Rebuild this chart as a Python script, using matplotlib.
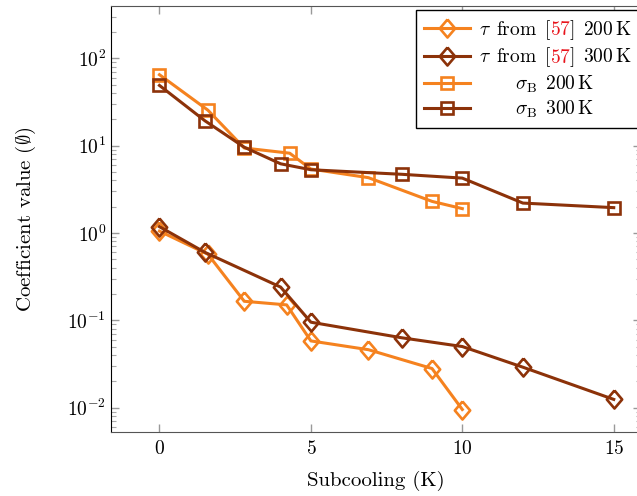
import matplotlib
matplotlib.use("Agg")
import matplotlib.pyplot as plt
from matplotlib.transforms import IdentityTransform

plt.rcParams['font.family'] = 'serif'
plt.rcParams['font.serif'] = ['cmr10']
plt.rcParams['mathtext.fontset'] = 'cm'
plt.rcParams['axes.formatter.use_mathtext'] = True

# data
tau_200_x = [0, 1.6, 2.8, 4.2, 5.0, 6.9, 9.0, 10.0]
tau_200_y = [1.05, 0.57, 0.165, 0.15, 0.058, 0.046, 0.028, 0.0095]
tau_300_x = [0, 1.5, 4.0, 5.0, 8.0, 10.0, 12.0, 15.0]
tau_300_y = [1.18, 0.6, 0.24, 0.095, 0.063, 0.05, 0.029, 0.0124]
sig_200_x = [0, 1.6, 2.8, 4.3, 5.0, 6.9, 9.0, 10.0]
sig_200_y = [65, 25.5, 9.4, 8.2, 5.4, 4.3, 2.3, 1.9]
sig_300_x = [0, 1.5, 2.8, 4.0, 5.0, 8.0, 10.0, 12.0, 15.0]
sig_300_y = [49, 19.3, 9.6, 6.2, 5.3, 4.7, 4.25, 2.2, 1.95]

labels = [r"$\tau\ \,\mathrm{from}\ \,[\quad\,]\ \,200\,\mathrm{K}$",
          r"$\tau\ \,\mathrm{from}\ \,[\quad\,]\ \,300\,\mathrm{K}$",
          r"$\sigma_{\mathrm{B}}\ \,200\,\mathrm{K}$",
          r"$\sigma_{\mathrm{B}}\ \,300\,\mathrm{K}$"]
ref_prefix = r"$\tau\ \,\mathrm{from}\ \,[$"
ref_num = r"$\mathrm{57}$"

orange = '#f5821f'
brown = '#8c3209'
diamond = [(0, 1), (0.85, 0), (0, -1), (-0.85, 0), (0, 1)]

W, H = 637, 496
fig = plt.figure(figsize=(W / 100, H / 100), dpi=100)
ax = fig.add_axes([111 / W, 64 / H, 530 / W, 426 / H])

style = dict(lw=2.2, mew=1.9, mfc='none')
ax.plot(tau_200_x, tau_200_y, color=orange, marker=diamond, ms=13, label=labels[0], **style)
ax.plot(tau_300_x, tau_300_y, color=brown, marker=diamond, ms=13, label=labels[1], **style)
ax.plot(sig_200_x, sig_200_y, color=orange, marker='s', ms=8.5, label=labels[2], **style)
ax.plot(sig_300_x, sig_300_y, color=brown, marker='s', ms=8.5, label=labels[3], **style)

ax.set_yscale('log')
ax.set_xlim(-1.6, 15.9)
ax.set_ylim(10 ** -2.28, 10 ** 2.6)
ax.set_xticks([0, 5, 10, 15])
ax.tick_params(which='major', direction='in', length=6, color='#999999', width=1,
               top=True, right=True, labelsize=14)
ax.tick_params(axis='x', pad=6)
ax.tick_params(which='minor', direction='in', length=3.5, color='#aaaaaa', width=0.8,
               top=False, right=True)
ax.xaxis.set_minor_locator(plt.NullLocator())
for s in ['bottom', 'top', 'right']:
    ax.spines[s].set_color('#555555')
ax.spines['left'].set_color('black')

ax.set_xlabel('Subcooling (K)', fontsize=15, labelpad=9)
ax.set_ylabel(r'Coefficient value ($\emptyset$)', fontsize=15, labelpad=21)

leg = ax.legend(loc='upper right', bbox_to_anchor=(639 / W, 1 - 10 / H),
                bbox_transform=fig.transFigure, borderaxespad=0, fontsize=14,
                fancybox=False, framealpha=1, edgecolor='black', handlelength=2.35,
                handletextpad=0.45, labelspacing=0.21, borderpad=0.4)
leg.get_frame().set_linewidth(1.0)

fig.canvas.draw()
r = fig.canvas.get_renderer()
texts = leg.get_texts()
widths = [t.get_window_extent(r).width for t in texts]
wmax = max(widths)
for t, w in zip(texts, widths):
    t.set_x((wmax - w) / 2)

for t in texts[:2]:
    x0, y0 = t.get_transform().transform(t.get_position())
    tmp = fig.text(0, 0, ref_prefix, fontproperties=t.get_fontproperties())
    pw = tmp.get_window_extent(r).width
    tmp.remove()
    fig.text(x0 + pw, y0, ref_num, color='#e8141c', va='baseline', ha='left',
             fontproperties=t.get_fontproperties(), transform=IdentityTransform(), zorder=10)

fig.savefig('out.png', dpi=100)
